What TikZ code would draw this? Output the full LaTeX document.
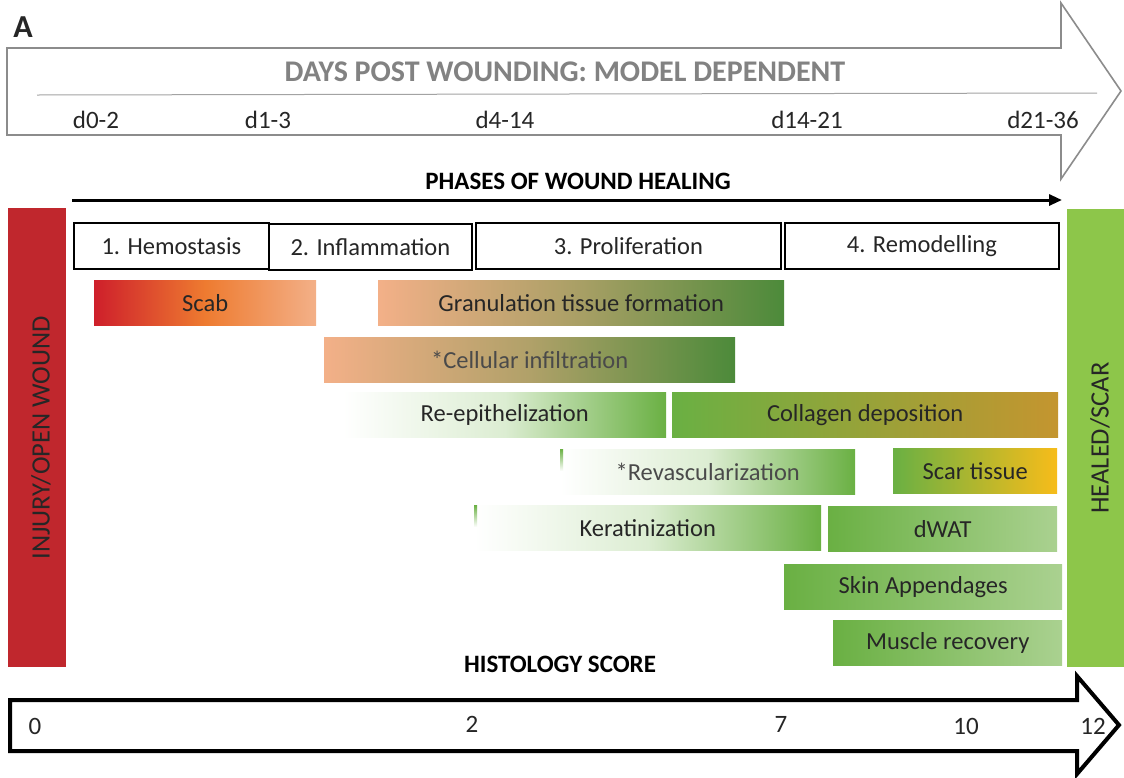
\documentclass[tikz,border=0pt]{standalone}
\usepackage{fontspec}
\setmainfont{Carlito}
\usetikzlibrary{arrows.meta}
\definecolor{redbar}{HTML}{C0272D}
\definecolor{greenbar}{HTML}{8DC64A}
\definecolor{scabred}{HTML}{CE1F2B}
\definecolor{scaborange}{HTML}{EE7B30}
\definecolor{peach}{HTML}{F3B088}
\definecolor{dkgreen}{HTML}{4C8A3A}
\definecolor{grn}{HTML}{6AB043}
\definecolor{ochre}{HTML}{C4952F}
\definecolor{yel}{HTML}{F7BC1A}
\definecolor{ltgreen}{HTML}{AAD190}
\definecolor{paleg}{HTML}{DCEDD2}
\definecolor{txt}{HTML}{262626}
\definecolor{txtgrey}{HTML}{4A4A4A}
\definecolor{arrowgrey}{HTML}{8C8C8C}
\definecolor{titlegrey}{HTML}{828282}
\begin{document}
\begin{tikzpicture}[x=1pt,y=-1pt,
  phase/.style={draw=black, line width=1.8pt, fill=white, anchor=north west, inner sep=0pt, minimum height=46pt, text=txt, font=\fontsize{24.5}{27}\selectfont},
  bar/.style={anchor=north west, inner sep=0pt, minimum height=45pt, text=txt, font=\fontsize{24.5}{27}\selectfont},
  daylbl/.style={text=txt, font=\fontsize{25}{27}\selectfont},
  scorelbl/.style={text=txt, font=\fontsize{25}{27}\selectfont},
  heading/.style={text=black, font=\fontsize{25}{27}\selectfont\bfseries},
  sidetxt/.style={rotate=90, text=txt, font=\fontsize{26.5}{28}\selectfont},
  sliver/.style={top color=grn, bottom color=white}]
\useasboundingbox (0,0) rectangle (1124,777);
\fill[white] (0,0) rectangle (1124,777);
% panel letter
\node[font=\fontsize{32}{34}\selectfont\bfseries, text=txt] (A) at (23,27) {A};
% top grey arrow
\draw[arrowgrey, line width=1.6pt, fill=white, line join=miter]
  (7,48) -- (1061,48) -- (1061,3) -- (1121,91) -- (1061,179) -- (1061,135) -- (7,135) -- cycle;
\coordinate (gl1) at (37,95);
\coordinate (gl2) at (1097,93);
\draw[arrowgrey!80, line width=1pt] (gl1) -- (gl2);
\node[text=titlegrey, font=\fontsize{30}{32}\selectfont\bfseries] (days) at (565,72) {DAYS POST WOUNDING: MODEL DEPENDENT};
\node[daylbl] (d1) at (96,120) {d0-2};
\node[daylbl] (d2) at (268,120) {d1-3};
\node[daylbl] (d3) at (505,120) {d4-14};
\node[daylbl] (d4) at (807,120) {d14-21};
\node[daylbl] (d5) at (1043,120) {d21-36};
% phases arrow
\node[heading] (phases) at (578,181) {PHASES OF WOUND HEALING};
\coordinate (pa1) at (72,200);
\coordinate (pa2) at (1062,200);
\draw[line width=3pt, -{Triangle[length=13pt,width=11pt]}] (pa1) -- (pa2);
% side bars
\fill[redbar] (8,208) rectangle (66,667);
\node[sidetxt] (injury) at (41,438) {INJURY/OPEN WOUND};
\fill[greenbar] (1067,209) rectangle (1124,667);
\node[sidetxt] (healed) at (1100,438) {HEALED/SCAR};
% phase boxes
\node[phase, minimum width=195pt] (p1) at (73,222) {1. Hemostasis};
\node[phase, minimum width=203pt] (p2) at (268,223) {2. Inflammation};
\node[phase, minimum width=305pt] (p3) at (475,222) {3. Proliferation};
\node[phase, minimum width=274pt] (p4) at (784,222) {4. Remodelling};
% bars
\node[bar, minimum width=222pt, left color=scabred, right color=peach, middle color=scaborange] (scab) at (94,280) {Scab};
\node[bar, minimum width=406pt, left color=peach, right color=dkgreen, middle color={peach!55!dkgreen}] (gran) at (378,280) {Granulation tissue formation};
\node[bar, minimum width=411pt, left color=peach, right color=dkgreen, middle color={peach!60!dkgreen}, text=txtgrey] (cell) at (324,337) {*Cellular infiltration};
\node[bar, minimum width=323pt, left color=white, right color=grn, middle color=paleg] (reep) at (343,392) {Re-epithelization};
\node[bar, minimum width=386pt, left color=grn, right color=ochre] (coll) at (672,392) {Collagen deposition};
\node[bar, minimum width=295pt, left color=white, right color=grn, middle color=paleg, text=txtgrey] (revasc) at (560,449) {*Revascularization};
\shade[sliver] (revasc.north west) rectangle ([xshift=3pt,yshift=-22pt]revasc.north west);
\node[bar, minimum width=164pt, left color=grn, right color=yel] (scar) at (893,448) {Scar tissue};
\node[bar, minimum width=347pt, left color=white, right color=grn, middle color=paleg] (kera) at (474,505) {Keratinization};
\shade[sliver] (kera.north west) rectangle ([xshift=3pt,yshift=-22pt]kera.north west);
\node[bar, minimum width=229pt, left color=grn, right color=ltgreen] (dwat) at (828,506) {dWAT};
\node[bar, minimum width=278pt, left color=grn, right color=ltgreen] (skin) at (784,564) {Skin Appendages};
\node[bar, minimum width=229pt, left color=grn, right color=ltgreen] (musc) at (833,620) {Muscle recovery};
% histology score arrow
\node[heading] (hist) at (560,664) {HISTOLOGY SCORE};
\draw[black, line width=4pt, fill=white, line join=miter]
  (10,700) -- (1077,700) -- (1077,676) -- (1119,725) -- (1077,774) -- (1077,751) -- (10,751) -- cycle;
\node[scorelbl] (s0) at (35,726) {0};
\node[scorelbl] (s2) at (472,724) {2};
\node[scorelbl] (s7) at (781,724) {7};
\node[scorelbl] (s10) at (966,726) {10};
\node[scorelbl] (s12) at (1093,726) {12};
\end{tikzpicture}
\end{document}
